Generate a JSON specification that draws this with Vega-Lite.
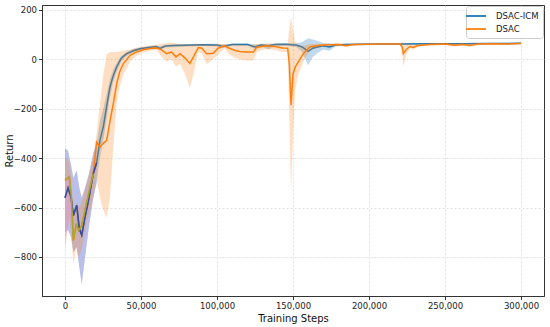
{
  "$schema": "https://vega.github.io/schema/vega-lite/v6.json",
  "width": 502,
  "height": 291,
  "autosize": {"type": "none"},
  "padding": {"left": 42, "top": 5, "right": 6, "bottom": 31},
  "background": "white",
  "config": {
    "font": "DejaVu Sans",
    "view": {"stroke": "#333", "strokeWidth": 1},
    "axis": {
      "labelFont": "DejaVu Sans", "labelFontSize": 8.5, "labelColor": "#222",
      "titleFont": "DejaVu Sans", "titleFontSize": 10, "titleFontWeight": "normal", "titleColor": "#111",
      "grid": true, "gridDash": [2, 2], "gridColor": "#d4d4d4", "gridWidth": 0.7,
      "domainColor": "#333", "tickColor": "#333", "tickSize": 3.5
    },
    "legend": {"labelFont": "DejaVu Sans", "labelFontSize": 8.5, "labelColor": "#222"}
  },
  "datasets": {
    "icm": [
      {"step": 0, "mean": -560, "lo": -700, "hi": -360},
      {"step": 2000, "mean": -520, "lo": -690, "hi": -370},
      {"step": 4000, "mean": -560, "lo": -720, "hi": -430},
      {"step": 5500, "mean": -632, "lo": -780, "hi": -480},
      {"step": 7700, "mean": -591, "lo": -760, "hi": -450},
      {"step": 9400, "mean": -685, "lo": -840, "hi": -520},
      {"step": 11000, "mean": -712, "lo": -910, "hi": -560},
      {"step": 13200, "mean": -638, "lo": -800, "hi": -520},
      {"step": 15500, "mean": -570, "lo": -690, "hi": -470},
      {"step": 18600, "mean": -462, "lo": -560, "hi": -380},
      {"step": 20800, "mean": -420, "lo": -500, "hi": -340},
      {"step": 23000, "mean": -328, "lo": -400, "hi": -250},
      {"step": 25200, "mean": -274, "lo": -330, "hi": -200},
      {"step": 27400, "mean": -190, "lo": -240, "hi": -140},
      {"step": 29600, "mean": -112, "lo": -150, "hi": -80},
      {"step": 31800, "mean": -65, "lo": -90, "hi": -40},
      {"step": 34000, "mean": -31, "lo": -50, "hi": -15},
      {"step": 37000, "mean": 5, "lo": -10, "hi": 15},
      {"step": 40600, "mean": 23, "lo": 15, "hi": 30},
      {"step": 45000, "mean": 35, "lo": 28, "hi": 42},
      {"step": 49300, "mean": 43, "lo": 38, "hi": 48},
      {"step": 55000, "mean": 48, "lo": 42, "hi": 53},
      {"step": 60000, "mean": 52, "lo": 46, "hi": 57},
      {"step": 62500, "mean": 44, "lo": 38, "hi": 52},
      {"step": 66000, "mean": 54, "lo": 48, "hi": 59},
      {"step": 72000, "mean": 56, "lo": 50, "hi": 61},
      {"step": 80000, "mean": 57, "lo": 52, "hi": 62},
      {"step": 90000, "mean": 59, "lo": 54, "hi": 63},
      {"step": 100000, "mean": 58, "lo": 53, "hi": 63},
      {"step": 104000, "mean": 52, "lo": 46, "hi": 60},
      {"step": 110000, "mean": 60, "lo": 55, "hi": 64},
      {"step": 120000, "mean": 60, "lo": 55, "hi": 64},
      {"step": 125000, "mean": 50, "lo": 42, "hi": 60},
      {"step": 129000, "mean": 58, "lo": 52, "hi": 63},
      {"step": 134000, "mean": 55, "lo": 40, "hi": 63},
      {"step": 138000, "mean": 60, "lo": 54, "hi": 64},
      {"step": 145000, "mean": 61, "lo": 56, "hi": 65},
      {"step": 152000, "mean": 58, "lo": 50, "hi": 64},
      {"step": 156000, "mean": 50, "lo": 30, "hi": 70},
      {"step": 160000, "mean": 32, "lo": -24, "hi": 85},
      {"step": 163000, "mean": 45, "lo": 10, "hi": 80},
      {"step": 166000, "mean": 50, "lo": 25, "hi": 75},
      {"step": 170000, "mean": 55, "lo": 40, "hi": 66},
      {"step": 174000, "mean": 50, "lo": 35, "hi": 64},
      {"step": 178000, "mean": 58, "lo": 52, "hi": 63},
      {"step": 185000, "mean": 60, "lo": 56, "hi": 64},
      {"step": 195000, "mean": 61, "lo": 57, "hi": 64},
      {"step": 210000, "mean": 62, "lo": 59, "hi": 65},
      {"step": 222000, "mean": 62, "lo": 58, "hi": 66},
      {"step": 240000, "mean": 63, "lo": 60, "hi": 66},
      {"step": 260000, "mean": 63, "lo": 60, "hi": 66},
      {"step": 280000, "mean": 64, "lo": 61, "hi": 67},
      {"step": 300000, "mean": 65, "lo": 62, "hi": 68}
    ],
    "dsac": [
      {"step": 0, "mean": -490, "lo": -760, "hi": -390},
      {"step": 2800, "mean": -476, "lo": -640, "hi": -420},
      {"step": 4200, "mean": -560, "lo": -700, "hi": -480},
      {"step": 5500, "mean": -733, "lo": -830, "hi": -640},
      {"step": 7500, "mean": -665, "lo": -760, "hi": -580},
      {"step": 9000, "mean": -693, "lo": -800, "hi": -600},
      {"step": 11000, "mean": -672, "lo": -770, "hi": -580},
      {"step": 14300, "mean": -578, "lo": -660, "hi": -500},
      {"step": 18600, "mean": -462, "lo": -560, "hi": -400},
      {"step": 20800, "mean": -335, "lo": -480, "hi": -300},
      {"step": 23000, "mean": -355, "lo": -560, "hi": -180},
      {"step": 25200, "mean": -340, "lo": -610, "hi": -60},
      {"step": 27400, "mean": -328, "lo": -640, "hi": 20},
      {"step": 29600, "mean": -250, "lo": -560, "hi": 30},
      {"step": 31800, "mean": -179, "lo": -350, "hi": 30},
      {"step": 34000, "mean": -98, "lo": -180, "hi": 30},
      {"step": 36000, "mean": -50, "lo": -110, "hi": 32},
      {"step": 38400, "mean": -17, "lo": -60, "hi": 35},
      {"step": 42800, "mean": 16, "lo": -10, "hi": 40},
      {"step": 47000, "mean": 30, "lo": 15, "hi": 48},
      {"step": 51500, "mean": 39, "lo": 28, "hi": 52},
      {"step": 56000, "mean": 44, "lo": 35, "hi": 56},
      {"step": 60300, "mean": 46, "lo": 38, "hi": 58},
      {"step": 63000, "mean": 40, "lo": 15, "hi": 62},
      {"step": 66900, "mean": 23, "lo": -10, "hi": 65},
      {"step": 70000, "mean": 30, "lo": 0, "hi": 68},
      {"step": 73000, "mean": 10, "lo": -30, "hi": 65},
      {"step": 75700, "mean": 23, "lo": -20, "hi": 60},
      {"step": 79000, "mean": 5, "lo": -60, "hi": 62},
      {"step": 82200, "mean": -17, "lo": -115, "hi": 60},
      {"step": 84500, "mean": 10, "lo": -60, "hi": 60},
      {"step": 87700, "mean": 48, "lo": 30, "hi": 62},
      {"step": 90000, "mean": 45, "lo": 25, "hi": 62},
      {"step": 93200, "mean": 23, "lo": -20, "hi": 60},
      {"step": 97500, "mean": 25, "lo": 0, "hi": 60},
      {"step": 100700, "mean": 45, "lo": 20, "hi": 62},
      {"step": 105000, "mean": 55, "lo": 45, "hi": 62},
      {"step": 108000, "mean": 45, "lo": 20, "hi": 60},
      {"step": 112000, "mean": 36, "lo": 5, "hi": 60},
      {"step": 115000, "mean": 32, "lo": 0, "hi": 60},
      {"step": 119000, "mean": 30, "lo": -5, "hi": 58},
      {"step": 124000, "mean": 30, "lo": -5, "hi": 60},
      {"step": 126000, "mean": 48, "lo": 30, "hi": 62},
      {"step": 132000, "mean": 55, "lo": 42, "hi": 63},
      {"step": 138000, "mean": 52, "lo": 38, "hi": 63},
      {"step": 143000, "mean": 46, "lo": 30, "hi": 62},
      {"step": 146500, "mean": 45, "lo": 30, "hi": 62},
      {"step": 147600, "mean": -20, "lo": -250, "hi": 130},
      {"step": 148700, "mean": -186, "lo": -535, "hi": 170},
      {"step": 150000, "mean": -60, "lo": -300, "hi": 120},
      {"step": 151500, "mean": -30, "lo": -120, "hi": 70},
      {"step": 153500, "mean": -10, "lo": -60, "hi": 55},
      {"step": 156800, "mean": 23, "lo": -10, "hi": 55},
      {"step": 161000, "mean": 50, "lo": 35, "hi": 62},
      {"step": 165000, "mean": 55, "lo": 45, "hi": 62},
      {"step": 170000, "mean": 58, "lo": 52, "hi": 63},
      {"step": 180000, "mean": 60, "lo": 55, "hi": 64},
      {"step": 185000, "mean": 55, "lo": 50, "hi": 62},
      {"step": 190000, "mean": 60, "lo": 56, "hi": 64},
      {"step": 200000, "mean": 61, "lo": 58, "hi": 64},
      {"step": 210000, "mean": 62, "lo": 59, "hi": 65},
      {"step": 220500, "mean": 62, "lo": 59, "hi": 65},
      {"step": 221800, "mean": 50, "lo": 35, "hi": 68},
      {"step": 222600, "mean": 23, "lo": -30, "hi": 68},
      {"step": 224500, "mean": 40, "lo": 20, "hi": 62},
      {"step": 227000, "mean": 52, "lo": 45, "hi": 62},
      {"step": 229000, "mean": 48, "lo": 40, "hi": 60},
      {"step": 232000, "mean": 56, "lo": 50, "hi": 62},
      {"step": 240000, "mean": 60, "lo": 56, "hi": 64},
      {"step": 250000, "mean": 62, "lo": 58, "hi": 65},
      {"step": 256000, "mean": 57, "lo": 52, "hi": 64},
      {"step": 262000, "mean": 60, "lo": 55, "hi": 65},
      {"step": 266000, "mean": 56, "lo": 52, "hi": 64},
      {"step": 272000, "mean": 62, "lo": 58, "hi": 66},
      {"step": 280000, "mean": 63, "lo": 60, "hi": 66},
      {"step": 290000, "mean": 62, "lo": 58, "hi": 66},
      {"step": 300000, "mean": 64, "lo": 61, "hi": 67}
    ]
  },
  "encoding": {
    "x": {
      "field": "step", "type": "quantitative", "title": "Training Steps",
      "scale": {"domain": [-15130, 315130], "nice": false, "zero": false},
      "axis": {"values": [0, 50000, 100000, 150000, 200000, 250000, 300000], "format": ",d", "labelFlush": false, "titlePadding": 3}
    }
  },
  "layer": [
    {
      "data": {"name": "icm"},
      "mark": {"type": "area", "color": "#1f77b4", "opacity": 0.28},
      "encoding": {
        "y": {"field": "lo", "type": "quantitative", "title": "Return",
          "scale": {"domain": [-958, 220], "nice": false, "zero": false},
          "axis": {"values": [-800, -600, -400, -200, 0, 200], "titleX": -28, "titleY": 145.5, "titleBaseline": "bottom", "titleAngle": -90, "titleAlign": "center"}},
        "y2": {"field": "hi"}
      }
    },
    {
      "data": {"name": "icm"},
      "transform": [{"filter": "datum.step <= 21000"}],
      "mark": {"type": "area", "color": "#b4a6e8", "opacity": 0.5},
      "encoding": {"y": {"field": "lo", "type": "quantitative"}, "y2": {"field": "hi"}}
    },
    {
      "data": {"name": "icm"},
      "transform": [{"calculate": "'DSAC-ICM'", "as": "series"}],
      "mark": {"type": "line", "strokeWidth": 1.5},
      "encoding": {
        "y": {"field": "mean", "type": "quantitative"},
        "color": {"field": "series", "type": "nominal",
          "scale": {"domain": ["DSAC-ICM", "DSAC"], "range": ["#1f77b4", "#ff7f0e"]},
          "legend": {"title": null, "orient": "top-right", "offset": 1, "symbolType": "M-2,0H2", "symbolStrokeWidth": 1.8, "symbolSize": 100,
            "strokeColor": "#cccccc", "fillColor": "rgba(255,255,255,0.85)", "padding": 4, "cornerRadius": 3, "rowPadding": 2, "labelOffset": 14}}
      }
    },
    {
      "data": {"name": "dsac"},
      "mark": {"type": "area", "color": "#ff7f0e", "opacity": 0.25},
      "encoding": {"y": {"field": "lo", "type": "quantitative"}, "y2": {"field": "hi"}}
    },
    {
      "data": {"name": "dsac"},
      "transform": [{"filter": "datum.step <= 4500"}],
      "mark": {"type": "area", "color": "#e59ae0", "opacity": 0.4},
      "encoding": {"y": {"field": "lo", "type": "quantitative"}, "y2": {"field": "mean"}}
    },
    {
      "data": {"name": "dsac"},
      "transform": [{"calculate": "'DSAC'", "as": "series"}],
      "mark": {"type": "line", "strokeWidth": 1.5},
      "encoding": {
        "y": {"field": "mean", "type": "quantitative"},
        "color": {"field": "series", "type": "nominal"}
      }
    },
    {
      "data": {"name": "icm"},
      "transform": [{"filter": "datum.step <= 20800"}],
      "mark": {"type": "line", "strokeWidth": 1.5, "color": "#3d4a9e"},
      "encoding": {"y": {"field": "mean", "type": "quantitative"}}
    },
    {
      "data": {"name": "dsac"},
      "transform": [{"filter": "datum.step <= 18600"}],
      "mark": {"type": "line", "strokeWidth": 1.5, "color": "#a9a82e"},
      "encoding": {"y": {"field": "mean", "type": "quantitative"}}
    }
  ]
}
